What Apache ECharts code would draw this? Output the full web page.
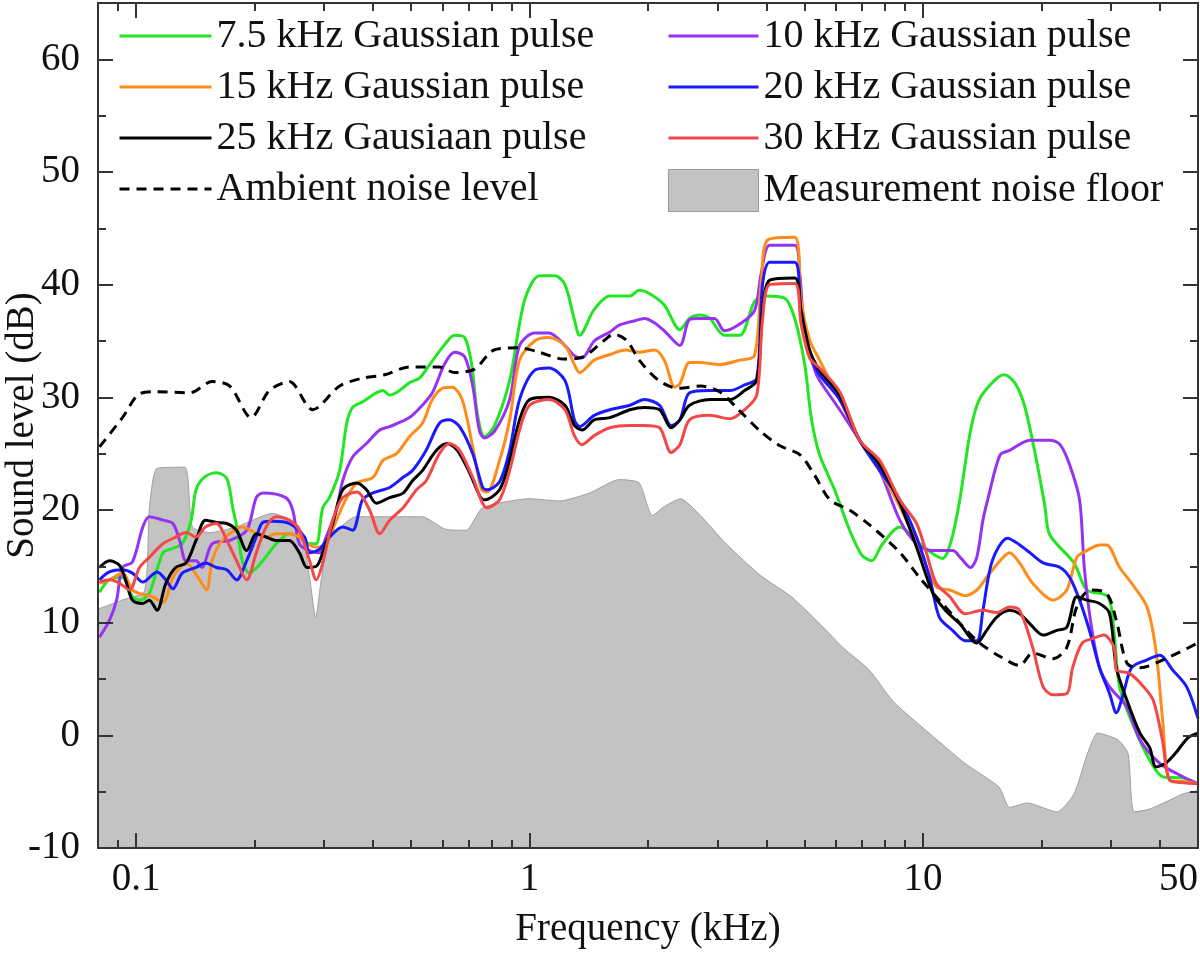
<!DOCTYPE html>
<html>
<head>
<meta charset="utf-8">
<script src="https://cdn.jsdelivr.net/npm/echarts@6/dist/echarts.min.js"></script>
<style>
html, body { margin: 0; padding: 0; background: #fff; }
#main { width: 1200px; height: 957px; }
</style>
</head>
<body>
<div id="main"></div>
<script>
var FONT = '"Liberation Serif", "Times New Roman", serif';

// axis ticks / labels
var xMajorTicks = [0.1, 1, 10];
var xMinorTicks = [0.09, 0.2, 0.3, 0.4, 0.5, 0.6, 0.7, 0.8, 0.9, 2, 3, 4, 5, 6, 7, 8, 9, 20, 30, 40];
var xTickLabels = [0.1, 1, 10, 50];
var yMajorTicks = [-10, 0, 10, 20, 30, 40, 50, 60];
var yMinorTicks = [-5, 5, 15, 25, 35, 45, 55];

// [frequency kHz, level dB]
var noiseFloor = [[0.08, 11.2], [0.092, 12], [0.105, 12.8], [0.108, 20], [0.113, 23.7], [0.133, 23.8], [0.139, 18.5],
    [0.154, 18], [0.18, 18.5], [0.222, 19.7], [0.26, 18.5], [0.276, 14], [0.286, 10.4], [0.296, 14], [0.31, 17.3],
    [0.362, 19.4], [0.534, 19.4], [0.61, 18.3], [0.69, 18.2], [0.76, 20.2], [1.0, 21], [1.19, 20.8], [1.42, 21.5],
    [1.69, 22.7], [1.9, 22.4], [2.05, 19.5], [2.2, 20.3], [2.42, 21], [2.72, 19.5], [3.16, 17], [3.86, 14.2],
    [4.63, 12.3], [5.5, 9.8], [6.3, 7.7], [7.3, 5.8], [8.4, 3], [10.2, 0.4], [12.8, -2.5], [15.6, -4.6], [16.6, -6.4],
    [18.4, -6], [21.9, -6.8], [24.2, -5.2], [26.2, -1.6], [27.8, 0.2], [31.3, -0.4], [33.2, -1.6], [34.4, -6.8],
    [38, -6.5], [45.8, -5.2], [50, -4.9]];

var ambient = [[0.0807, 25.6], [0.0923, 28.2], [0.102, 30.3], [0.113, 30.5], [0.137, 30.4], [0.156, 31.4], [0.173, 31],
    [0.196, 28.2], [0.218, 30.6], [0.245, 31.4], [0.281, 28.9], [0.329, 31], [0.376, 31.7], [0.428, 32], [0.495, 32.7],
    [0.59, 32.7], [0.645, 32.2], [0.725, 32.5], [0.812, 34.2], [0.94, 34.4], [1.06, 34], [1.22, 33.4], [1.37, 33.6],
    [1.54, 35], [1.64, 35.6], [1.77, 35], [1.9, 33.3], [2.13, 31.5], [2.39, 30.8], [2.72, 31], [3.04, 30.5],
    [3.42, 28.8], [3.86, 27], [4.33, 25.7], [4.87, 24.9], [5.3, 23.1], [5.8, 20.9], [6.5, 20], [7.3, 18.7],
    [8.7, 16.3], [9.8, 14], [11.0, 12], [13.7, 8.4], [15.7, 7], [17.6, 6.2], [19.0, 7.3], [21.4, 6.8], [23.2, 7.8],
    [24.6, 11.4], [26.6, 12.9], [29.3, 12.6], [31.0, 10.2], [33.0, 6.4], [35.6, 6], [41.9, 6.9], [50, 8.2]];

var pulse7k5 = [[0.0807, 12.7], [0.0855, 13.8], [0.0923, 14], [0.0979, 12.3], [0.102, 12], [0.108, 12.6], [0.117, 16.2],
    [0.124, 16.6], [0.131, 17], [0.138, 19.1], [0.142, 21.8], [0.149, 22.9], [0.16, 23.3], [0.17, 22.8], [0.176, 20.2],
    [0.181, 18.2], [0.186, 15.5], [0.194, 14.4], [0.21, 15.5], [0.227, 17], [0.245, 17.9], [0.26, 17.6], [0.276, 17],
    [0.287, 17], [0.298, 20.2], [0.31, 21.1], [0.329, 23.5], [0.343, 27.7], [0.355, 29.1], [0.376, 29.6], [0.424, 30.6],
    [0.441, 30.2], [0.467, 30.6], [0.495, 31.3], [0.525, 31.7], [0.557, 32.9], [0.609, 34.7], [0.645, 35.5],
    [0.684, 35.3], [0.712, 33], [0.737, 28.5], [0.768, 26.5], [0.815, 27.5], [0.89, 31.5], [0.971, 38.6], [1.06, 40.8],
    [1.16, 40.8], [1.23, 40], [1.3, 36.9], [1.34, 35.5], [1.46, 37.8], [1.6, 39], [1.8, 39], [1.9, 39.5], [2.02, 39.2],
    [2.2, 38.2], [2.41, 36], [2.55, 37], [2.71, 37.3], [2.87, 37], [3.13, 35.5], [3.42, 35.5], [3.73, 38.5], [3.96, 39],
    [4.45, 38.8], [4.72, 37], [5.0, 33], [5.21, 28], [5.46, 24.9], [5.96, 21.8], [6.51, 18.2], [6.99, 16], [7.41, 15.5],
    [7.86, 16.9], [8.73, 18.5], [9.81, 17], [11.2, 15.7], [11.8, 17.3], [12.4, 20.9], [13.2, 27], [13.9, 29.8],
    [15.2, 31.5], [16.1, 32], [17.1, 31.3], [18.1, 29.3], [19.2, 25.3], [20.4, 20.4], [21.0, 17.8], [24.2, 15.3],
    [26.1, 12.9], [29.5, 12.3], [30.6, 9.1], [31.6, 4.3], [34.4, 0.7], [37.7, -2.2], [40.8, -3.7], [45.9, -3.8], [50, -4.3]];

var pulse10k = [[0.0807, 8.7], [0.0855, 10.2], [0.0892, 12], [0.0923, 14.9], [0.0979, 15.4], [0.104, 18.5], [0.108, 19.4],
    [0.117, 19.1], [0.124, 18.8], [0.129, 17.3], [0.134, 15.5], [0.142, 15.5], [0.147, 14.9], [0.156, 17], [0.173, 17.3],
    [0.191, 18.2], [0.202, 21.1], [0.21, 21.5], [0.24, 21.1], [0.25, 20], [0.26, 17], [0.276, 16.4], [0.292, 16.2],
    [0.304, 17.6], [0.323, 20], [0.335, 22.6], [0.355, 24.7], [0.385, 25.9], [0.416, 27.1], [0.441, 27.4], [0.495, 28.2],
    [0.534, 29.3], [0.566, 30.4], [0.609, 33], [0.645, 34], [0.684, 33.6], [0.717, 31], [0.746, 27], [0.768, 26.4],
    [0.815, 27], [0.89, 29.8], [0.943, 34.6], [1.03, 35.7], [1.12, 35.7], [1.23, 34.6], [1.3, 33.7], [1.36, 33.5],
    [1.46, 35], [1.6, 35.8], [1.69, 36.4], [1.85, 36.8], [1.96, 37], [2.08, 36.6], [2.2, 35.9], [2.41, 34.6], [2.55, 36.9],
    [2.71, 37], [2.95, 37], [3.13, 35.9], [3.42, 36.5], [3.73, 37.7], [3.88, 41], [4.08, 43.5], [4.72, 43.5], [4.86, 41],
    [5.0, 36], [5.31, 32.4], [5.46, 31.5], [6.14, 28.9], [6.9, 26.2], [7.76, 23.5], [8.73, 19.1], [9.63, 17], [10.5, 16.4],
    [11.9, 16.4], [12.5, 15.7], [13.2, 14.9], [13.7, 15.8], [14.2, 19.1], [14.6, 20.9], [15.7, 24.9], [16.6, 25.3],
    [18.7, 26.2], [21.0, 26.2], [22.3, 25.8], [23.6, 24], [25.0, 20.9], [25.7, 14.9], [26.7, 10], [28.1, 6], [29.8, 4.3],
    [33.0, 2.5], [35.6, -0.4], [40.0, -2.5], [45.9, -3.7], [50, -4.3]];

var pulse15k = [[0.0807, 13.5], [0.0855, 13.8], [0.0923, 14.4], [0.0979, 12.9], [0.102, 12.6], [0.11, 12.3], [0.117, 11.8],
    [0.124, 14], [0.134, 15.3], [0.145, 13.8], [0.151, 12.9], [0.156, 15.5], [0.163, 17], [0.173, 17.9], [0.186, 18.5],
    [0.202, 17.9], [0.214, 17.6], [0.227, 17.9], [0.245, 17.9], [0.26, 17.6], [0.272, 17], [0.287, 16.7], [0.304, 17],
    [0.323, 19.1], [0.343, 21.1], [0.364, 22.4], [0.4, 22.9], [0.424, 24.4], [0.459, 25], [0.495, 26.5], [0.534, 27.7],
    [0.566, 29.8], [0.6, 30.8], [0.635, 30.9], [0.674, 29.8], [0.717, 25.6], [0.755, 21.8], [0.78, 21.6], [0.839, 24.4],
    [0.89, 28], [0.943, 33.3], [1.03, 35], [1.12, 35.3], [1.23, 34.6], [1.3, 32.9], [1.34, 32.2], [1.46, 33.3], [1.6, 33.8],
    [1.75, 34.2], [1.9, 34], [2.08, 34.2], [2.2, 33.3], [2.34, 30.9], [2.41, 31.2], [2.55, 33.1], [2.71, 33.1],
    [3.04, 32.9], [3.42, 33.3], [3.73, 33.7], [3.88, 40.3], [4.04, 44], [4.72, 44.2], [4.9, 38.6], [5.15, 35.1],
    [5.46, 33.3], [6.14, 29.8], [6.9, 26.2], [7.76, 23.5], [8.73, 20.3], [9.81, 16.4], [10.8, 13.2], [11.7, 12.9],
    [12.8, 12.4], [13.7, 12.9], [14.5, 14], [15.7, 15.5], [16.6, 16.2], [17.6, 15.3], [19.0, 13.5], [21.4, 12],
    [23.2, 12.9], [24.6, 15.8], [26.1, 16.4], [28.1, 16.9], [29.3, 16.9], [31.6, 14.9], [33.9, 13.5], [37.1, 11.4],
    [39.1, 7.5], [40.6, 1.6], [42.4, -4], [45.9, -4.1], [50, -4.3]];

var pulse20k = [[0.0807, 13.8], [0.0855, 14.5], [0.0923, 14.7], [0.0979, 14.4], [0.104, 13.6], [0.113, 14.5], [0.119, 13.8],
    [0.124, 13], [0.131, 14.4], [0.142, 14.9], [0.15, 15.3], [0.16, 14.9], [0.17, 14.7], [0.18, 13.8], [0.191, 15.5],
    [0.202, 17.6], [0.21, 18.9], [0.222, 19], [0.245, 18.8], [0.268, 17.6], [0.276, 16.2], [0.292, 16.5], [0.31, 17.6],
    [0.335, 18.5], [0.355, 18.2], [0.376, 20.9], [0.399, 21.5], [0.441, 22], [0.477, 22.9], [0.504, 23.5], [0.546, 25.3],
    [0.59, 27.7], [0.626, 28], [0.664, 27.4], [0.717, 25], [0.76, 22], [0.78, 21.8], [0.839, 22.5], [0.89, 25.3],
    [0.943, 29.8], [1.03, 32.4], [1.12, 32.6], [1.23, 31.5], [1.3, 28], [1.34, 27.4], [1.46, 28.4], [1.6, 28.9],
    [1.8, 29.3], [1.96, 29.8], [2.14, 29.3], [2.29, 27.5], [2.41, 28], [2.55, 30.4], [2.87, 30.6], [3.23, 30.6],
    [3.52, 31.1], [3.78, 31.7], [3.91, 40], [4.08, 42], [4.72, 42], [4.9, 37], [5.15, 33.7], [5.46, 32], [6.14, 29.8],
    [6.9, 26.2], [7.76, 23.5], [8.73, 20.9], [9.63, 17.6], [10.4, 14], [11.0, 10.5], [11.9, 9.3], [12.8, 8.4], [13.7, 8.4],
    [14.2, 11.1], [15.0, 15.5], [16.4, 17.5], [17.3, 17.1], [18.7, 16.2], [20.2, 15.3], [22.3, 14.9], [23.6, 14],
    [25.0, 12], [26.6, 9.1], [28.1, 6], [29.8, 3.7], [31.0, 2], [32.3, 3.7], [33.9, 6], [37.1, 6.7], [40.0, 7.1],
    [43.1, 5.8], [46.8, 4.3], [50, 1.5]];

var pulse25k = [[0.0807, 14.9], [0.0855, 15.5], [0.0907, 15.1], [0.094, 13.8], [0.0979, 12], [0.104, 11.7], [0.108, 12],
    [0.113, 11.1], [0.119, 13.5], [0.126, 14.9], [0.134, 15.3], [0.142, 17.3], [0.15, 19.1], [0.16, 18.9], [0.17, 18.8],
    [0.18, 18.2], [0.191, 16.4], [0.202, 17.9], [0.214, 17.6], [0.227, 17.3], [0.245, 17.3], [0.26, 16.2], [0.272, 14.9],
    [0.287, 15], [0.298, 16.2], [0.316, 18.8], [0.335, 21.8], [0.364, 22.4], [0.385, 21.8], [0.408, 20.6], [0.441, 21.1],
    [0.477, 21.5], [0.504, 22.6], [0.534, 23.5], [0.58, 25.3], [0.617, 25.9], [0.655, 25.3], [0.704, 23.3],
    [0.746, 21.3], [0.768, 20.9], [0.839, 21.8], [0.89, 24.4], [0.943, 28], [1.0, 29.8], [1.12, 30], [1.23, 29.3],
    [1.3, 27.5], [1.36, 27.1], [1.46, 28], [1.6, 28.2], [1.8, 28.9], [1.96, 29.1], [2.14, 28.9], [2.29, 27.3], [2.41, 28],
    [2.55, 29.3], [2.87, 29.8], [3.23, 29.8], [3.52, 30.6], [3.78, 31.5], [3.91, 37.7], [4.08, 40.4], [4.72, 40.6],
    [4.9, 37.7], [5.15, 34.2], [5.46, 32.4], [6.14, 30.2], [6.9, 26.2], [7.76, 24], [8.73, 20.6], [9.63, 16.7],
    [10.6, 12.6], [11.4, 11.1], [12.4, 9.9], [13.7, 8.2], [14.5, 9.3], [15.4, 10.5], [16.6, 11.1], [17.6, 10.8],
    [18.7, 9.9], [20.2, 8.9], [21.8, 9.3], [23.2, 9.6], [24.6, 12.3], [26.1, 12], [28.1, 11.7], [29.8, 10.8], [31.0, 6],
    [33.0, 3.1], [35.6, 0.2], [37.7, -1.1], [39.1, -2.8], [41.3, -2.5], [43.8, -1.6], [47.2, -0.2], [50, 0.2]];

var pulse30k = [[0.0807, 13.6], [0.0855, 13.8], [0.0907, 13.5], [0.0961, 12.9], [0.102, 14.9], [0.108, 15.8], [0.117, 17],
    [0.126, 17.6], [0.134, 18], [0.142, 17.6], [0.15, 18.5], [0.16, 18.8], [0.17, 17.3], [0.18, 15.5], [0.191, 13.8],
    [0.202, 16.2], [0.214, 18.5], [0.227, 19.4], [0.245, 19.1], [0.26, 18.2], [0.276, 15.5], [0.287, 13.8], [0.298, 15.3],
    [0.316, 19.1], [0.335, 21.1], [0.364, 21.6], [0.392, 20], [0.416, 17.9], [0.441, 19.1], [0.477, 20.2], [0.516, 21.8],
    [0.546, 22.6], [0.59, 25], [0.626, 25.9], [0.664, 25.3], [0.717, 22.9], [0.78, 20.2], [0.839, 20.9], [0.89, 23.5],
    [0.943, 27.1], [1.0, 29.3], [1.12, 29.8], [1.23, 28.9], [1.3, 26.6], [1.36, 25.8], [1.46, 26.6], [1.6, 27.3],
    [1.8, 27.5], [1.96, 27.5], [2.14, 27.3], [2.29, 25.1], [2.41, 25.8], [2.55, 28], [2.87, 28.4], [3.23, 28.1],
    [3.52, 28.9], [3.78, 30.2], [3.91, 36.9], [4.08, 40], [4.72, 40.1], [4.9, 36.5], [5.15, 33.5], [5.46, 32.6],
    [6.14, 30.5], [6.9, 26.2], [7.76, 24.4], [8.73, 20.9], [9.63, 18.8], [10.2, 16.2], [10.8, 13.5], [11.7, 12.3],
    [12.8, 10.8], [14.2, 11.1], [15.4, 10.9], [16.6, 11.4], [17.6, 11.1], [19.0, 7.8], [20.2, 4.3], [21.4, 3.6],
    [23.2, 3.7], [24.0, 6], [25.4, 8.2], [27.1, 8.6], [28.8, 8.9], [30.6, 7.8], [31.0, 5.8], [33.5, 5.5], [36.4, 4.3],
    [38.5, 3.1], [40.6, -0.4], [42.4, -4], [45.9, -4.2], [50, -4.3]];

var AXIS_COLOR = '#333';

function xAxisDef(pos, ticks, len, withLine, withLabel) {
    var ax = {
        type: 'log', logBase: 10, min: 0.08, max: 50, position: pos, z: 10,
        axisLine: { show: withLine, onZero: false, lineStyle: { color: AXIS_COLOR, width: 2 } },
        axisTick: { show: true, inside: true, length: len, customValues: ticks, lineStyle: { color: AXIS_COLOR, width: 2 } },
        axisLabel: { show: false },
        splitLine: { show: false },
        minorTick: { show: false }
    };
    if (withLabel) {
        ax.axisLabel = {
            show: true, customValues: xTickLabels, margin: 12, alignMaxLabel: 'right',
            color: '#111', fontSize: 39, fontFamily: FONT,
            formatter: function (v) { return String(v); }
        };
        ax.name = 'Frequency (kHz)';
        ax.nameLocation = 'middle';
        ax.nameGap = 62;
        ax.nameMoveOverlap = false;
        ax.nameTextStyle = { color: '#111', fontSize: 39, fontFamily: FONT };
    }
    return ax;
}

function yAxisDef(pos, ticks, len, withLine, withLabel) {
    var ax = {
        type: 'value', min: -10, max: 65, position: pos, z: 10,
        axisLine: { show: withLine, onZero: false, lineStyle: { color: AXIS_COLOR, width: 2 } },
        axisTick: { show: true, inside: true, length: len, customValues: ticks, lineStyle: { color: AXIS_COLOR, width: 2 } },
        axisLabel: { show: false },
        splitLine: { show: false }
    };
    if (withLabel) {
        ax.axisLabel = {
            show: true, customValues: yMajorTicks, margin: 18,
            color: '#111', fontSize: 39, fontFamily: FONT
        };
        ax.name = 'Sound level (dB)';
        ax.nameLocation = 'middle';
        ax.nameGap = 56;
        ax.nameMoveOverlap = false;
        ax.nameTextStyle = { color: '#111', fontSize: 39, fontFamily: FONT };
    }
    return ax;
}

function lineSeries(name, data, color) {
    return {
        name: name, type: 'line', data: data, symbol: 'none', smooth: 0.3,
        itemStyle: { color: color },
        lineStyle: { color: color, width: 3 }
    };
}

var chart = echarts.init(document.getElementById('main'));
chart.setOption({
    animation: false,
    backgroundColor: '#fff',
    grid: { left: 98, right: 2, top: 3, bottom: 109, containLabel: false, outerBoundsMode: 'none' },
    legend: [{
        orient: 'vertical', left: 118, top: 16, padding: 0,
        itemWidth: 92, itemHeight: 42, itemGap: 11,
        itemStyle: { opacity: 0 },
        lineStyle: { width: 3 },
        textStyle: { color: '#111', fontSize: 40, fontFamily: FONT },
        data: ['7.5 kHz Gaussian pulse', '15 kHz Gaussian pulse', '25 kHz Gausiaan pulse', 'Ambient noise level']
    }, {
        orient: 'vertical', left: 667, top: 16, padding: 0,
        itemWidth: 90, itemHeight: 42, itemGap: 11,
        itemStyle: { opacity: 0 },
        lineStyle: { width: 3 },
        textStyle: { color: '#111', fontSize: 40, fontFamily: FONT },
        data: ['10 kHz Gaussian pulse', '20 kHz Gaussian pulse', '30 kHz Gaussian pulse',
            { name: 'Measurement noise floor', icon: 'rect', itemStyle: { color: '#c3c3c3', borderColor: '#999', borderWidth: 1, opacity: 1 } }]
    }],
    xAxis: [
        xAxisDef('bottom', xMajorTicks, 15, true, true),
        xAxisDef('bottom', xMinorTicks, 8, false, false),
        xAxisDef('top', xMajorTicks, 15, true, false),
        xAxisDef('top', xMinorTicks, 8, false, false)
    ],
    yAxis: [
        yAxisDef('left', yMajorTicks, 15, true, true),
        yAxisDef('left', yMinorTicks, 8, false, false),
        yAxisDef('right', yMajorTicks, 15, true, false),
        yAxisDef('right', yMinorTicks, 8, false, false)
    ],
    series: [
        {
            name: 'Measurement noise floor', type: 'line', data: noiseFloor, symbol: 'none', smooth: 0.2,
            itemStyle: { color: '#c3c3c3' },
            lineStyle: { color: '#a0a0a0', width: 1 },
            areaStyle: { color: '#c3c3c3', opacity: 1, origin: 'start' }
        },
        lineSeries('7.5 kHz Gaussian pulse', pulse7k5, '#22e622'),
        lineSeries('10 kHz Gaussian pulse', pulse10k, '#9633f2'),
        lineSeries('15 kHz Gaussian pulse', pulse15k, '#ff8c1a'),
        lineSeries('20 kHz Gaussian pulse', pulse20k, '#1a1aff'),
        lineSeries('25 kHz Gausiaan pulse', pulse25k, '#000000'),
        lineSeries('30 kHz Gaussian pulse', pulse30k, '#f24848'),
        {
            name: 'Ambient noise level', type: 'line', data: ambient, symbol: 'none', smooth: 0.3,
            itemStyle: { color: '#000' },
            lineStyle: { color: '#000', width: 3, type: [10, 7] }
        }
    ]
});
</script>
</body>
</html>
